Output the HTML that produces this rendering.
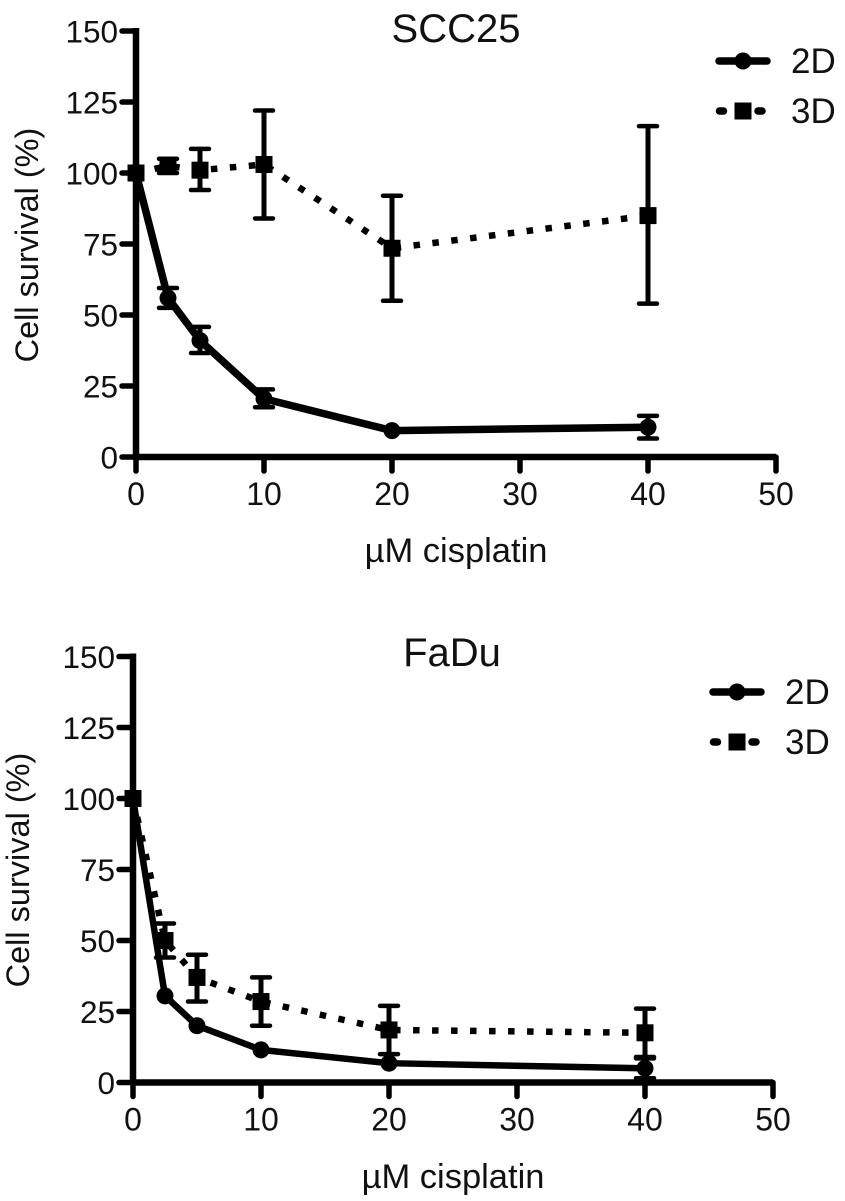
<!DOCTYPE html>
<html>
<head>
<meta charset="utf-8">
<style>
html,body{margin:0;padding:0;background:#fff;width:845px;height:1201px;overflow:hidden}
svg{display:block}
text{font-family:"Liberation Sans",sans-serif;fill:#111}
</style>
</head>
<body>
<svg id="fig" width="845" height="1201" viewBox="0 0 845 1201" xmlns="http://www.w3.org/2000/svg"></svg>
<script>
const doses = [0, 2.5, 5, 10, 20, 40];
const xTickLabels = [0, 10, 20, 30, 40, 50];
const yTickLabels = [0, 25, 50, 75, 100, 125, 150];

const scc2dMean = [100, 56, 41, 20.5, 9.3, 10.5];
const scc2dLow = [100, 52.5, 36.6, 17.5, 9, 6.5];
const scc2dHigh = [100, 59.5, 45.8, 23.8, 10, 14.5];
const scc3dMean = [100, 102.5, 101, 103, 73.5, 85];
const scc3dLow = [100, 100, 94, 84, 55, 54];
const scc3dHigh = [100, 105, 108.5, 122, 92, 116.5];

const fadu2dMean = [100, 30.5, 20, 11.5, 6.8, 5];
const fadu2dLow = [100, 30, 19, 11, 6, 1.5];
const fadu2dHigh = [100, 31, 21, 12, 7.5, 8.5];
const fadu3dMean = [100, 50, 37, 28.5, 18.5, 17.5];
const fadu3dLow = [100, 44, 28.5, 20, 10, 9];
const fadu3dHigh = [100, 56, 45, 37, 27, 26];

const svg = document.getElementById('fig');
const NS = 'http://www.w3.org/2000/svg';

function mk(parent, tag, attrs, txt) {
  const e = document.createElementNS(NS, tag);
  for (const k in attrs) e.setAttribute(k, attrs[k]);
  if (txt !== undefined) e.textContent = txt;
  parent.appendChild(e);
  return e;
}
function ln(parent, x1, y1, x2, y2, w, cap) {
  return mk(parent, 'line', {x1, y1, x2, y2, stroke: '#000', 'stroke-width': w, 'stroke-linecap': cap || 'round'});
}

function drawPanel(cfg) {
  const X = v => cfg.x0 + v * 12.8;
  const Y = v => cfg.y0 - v * 2.84;

  const g = mk(svg, 'g', {});
  
  

  const title = mk(g, 'text', {x: cfg.titleX, y: cfg.titleY, 'font-size': 40, 'text-anchor': 'middle'}, cfg.title);
  
  

  const yAxis = mk(g, 'g', {});
  
  
  ln(yAxis, X(0), Y(150) - 3, X(0), Y(0) + 3, 6.5, 'butt');
  yTickLabels.forEach(t => {
    ln(yAxis, X(0) - 14, Y(t), X(0), Y(t), 5.5);
    const lab = mk(yAxis, 'text', {x: X(0) - 18, y: Y(t) + 11.5, 'font-size': 31.5, 'text-anchor': 'end'}, t);
    
    
  });

  const xAxis = mk(g, 'g', {});
  
  
  ln(xAxis, X(0), Y(0), X(50), Y(0), 6.5, 'butt');
  xTickLabels.forEach(t => {
    ln(xAxis, X(t), Y(0), X(t), Y(0) + 14, 5.5);
    const lab = mk(xAxis, 'text', {x: X(t), y: Y(0) + 48, 'font-size': 32, 'text-anchor': 'middle'}, t);
    
    
  });

  const yTitle = mk(g, 'text', {x: 0, y: 0, 'font-size': 32.5, 'text-anchor': 'middle',
    transform: 'translate(' + cfg.yTitleX + ' ' + cfg.yTitleY + ') rotate(-90)'}, 'Cell survival (%)');
  
  

  const xTitle = mk(g, 'text', {x: cfg.xTitleX, y: cfg.xTitleY, 'font-size': 34.5, 'text-anchor': 'middle'}, 'µM cisplatin');
  
  

  // 3D series (dotted, squares)
  const s3 = mk(g, 'g', {});
  
  
  mk(s3, 'polyline', {points: doses.map((d, i) => X(d) + ',' + Y(cfg.m3[i])).join(' '),
    fill: 'none', stroke: '#000', 'stroke-width': 6.5, 'stroke-dasharray': '6.5 12.5'});
  doses.forEach((d, i) => {
    if (cfg.h3[i] !== cfg.l3[i]) {
      ln(s3, X(d), Y(cfg.l3[i]), X(d), Y(cfg.h3[i]), 5, 'butt');
      ln(s3, X(d) - 9, Y(cfg.l3[i]), X(d) + 9, Y(cfg.l3[i]), 4.5);
      ln(s3, X(d) - 9, Y(cfg.h3[i]), X(d) + 9, Y(cfg.h3[i]), 4.5);
    }
    const m = mk(s3, 'rect', {x: X(d) - 8.5, y: Y(cfg.m3[i]) - 8.5, width: 17, height: 17, fill: '#000'});
    
    
  });

  // 2D series (solid, circles)
  const s2 = mk(g, 'g', {});
  
  
  mk(s2, 'polyline', {points: doses.map((d, i) => X(d) + ',' + Y(cfg.m2[i])).join(' '),
    fill: 'none', stroke: '#000', 'stroke-width': cfg.w2, 'stroke-linejoin': 'round'});
  doses.forEach((d, i) => {
    if (cfg.h2[i] - cfg.l2[i] > 2.5) {
      ln(s2, X(d), Y(cfg.l2[i]), X(d), Y(cfg.h2[i]), 5, 'butt');
      ln(s2, X(d) - 9, Y(cfg.l2[i]), X(d) + 9, Y(cfg.l2[i]), 4.5);
      ln(s2, X(d) - 9, Y(cfg.h2[i]), X(d) + 9, Y(cfg.h2[i]), 4.5);
    }
    if (i > 0) {
      const m = mk(s2, 'circle', {cx: X(d), cy: Y(cfg.m2[i]), r: 8.5, fill: '#000'});
      
      
    }
  });

  // Legend
  const lg = mk(g, 'g', {});
  
  
  const lx = cfg.legendX;
  const e2 = mk(lg, 'g', {});
  
  
  ln(e2, lx - 24, cfg.legendY1, lx + 24, cfg.legendY1, 7.5);
  mk(e2, 'circle', {cx: lx, cy: cfg.legendY1, r: 8.5, fill: '#000'});
  mk(e2, 'text', {x: lx + 48, y: cfg.legendY1 + 12, 'font-size': 35}, '2D');
  const e3 = mk(lg, 'g', {});
  
  
  ln(e3, lx - 23.5, cfg.legendY2, lx - 19.5, cfg.legendY2, 7.5);
  ln(e3, lx + 15, cfg.legendY2, lx + 19, cfg.legendY2, 7.5);
  mk(e3, 'rect', {x: lx - 8.5, y: cfg.legendY2 - 8.5, width: 17, height: 17, fill: '#000'});
  mk(e3, 'text', {x: lx + 48, y: cfg.legendY2 + 12, 'font-size': 35}, '3D');
}

drawPanel({name: 'scc25', title: 'SCC25', x0: 136, y0: 457, titleX: 456, titleY: 42,
  yTitleX: 38, yTitleY: 245, xTitleX: 456, xTitleY: 562, w2: 7.5,
  m2: scc2dMean, l2: scc2dLow, h2: scc2dHigh, m3: scc3dMean, l3: scc3dLow, h3: scc3dHigh,
  legendX: 743, legendY1: 61, legendY2: 111});

drawPanel({name: 'fadu', title: 'FaDu', x0: 133, y0: 1082.5, titleX: 452, titleY: 666,
  yTitleX: 29, yTitleY: 870, xTitleX: 453, xTitleY: 1188, w2: 6.5,
  m2: fadu2dMean, l2: fadu2dLow, h2: fadu2dHigh, m3: fadu3dMean, l3: fadu3dLow, h3: fadu3dHigh,
  legendX: 737, legendY1: 692, legendY2: 742});
</script>
</body>
</html>
